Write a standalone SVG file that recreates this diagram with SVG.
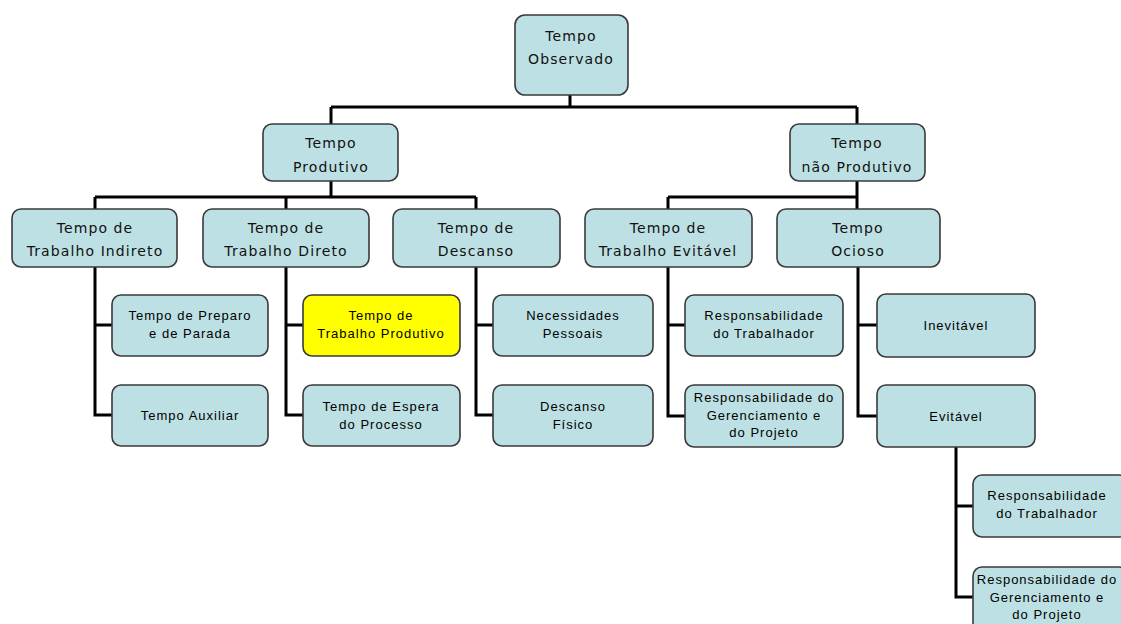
<svg xmlns="http://www.w3.org/2000/svg" width="1121" height="624" viewBox="0 0 1121 624">
  <style>
    .box { fill: #bce0e3; stroke: #3a3a3a; stroke-width: 1.6; }
    .hl { fill: #ffff00; }
    .big { font-family: "DejaVu Sans", Verdana, sans-serif; font-size: 14px; letter-spacing: 1.1px; fill: #111; text-anchor: middle; }
    .small { font-family: "Liberation Sans", Arial, sans-serif; font-size: 13px; letter-spacing: 1px; fill: #000; text-anchor: middle; }
    .wire { fill: none; stroke: #000; stroke-width: 3; }
  </style>

  <g id="connectors" class="wire">
    <path d="M570,95 V107 M331,107 H857 M331,107 V124 M857,107 V124"/>
    <path d="M331,181 V197 M95,197 H476 M95,197 V209 M286,197 V209 M476,197 V209"/>
    <path d="M857,181 V197 M668,197 H857 M668,197 V209 M857,197 V209"/>
    <path d="M95,267 V415 H112 M95,325 H112"/>
    <path d="M286,267 V415 H303 M286,325 H303"/>
    <path d="M476,267 V415 H493 M476,325 H493"/>
    <path d="M668,267 V416 H685 M668,325 H685"/>
    <path d="M858,267 V416 H877 M858,325 H877"/>
    <path d="M956,447 V597 H973 M956,506 H973"/>
  </g>

  <g id="tempo-observado">
    <rect class="box" x="515" y="15" width="113" height="80" rx="10"/>
    <text class="big" x="571" y="41">Tempo</text>
    <text class="big" x="571" y="64">Observado</text>
  </g>

  <g id="tempo-produtivo">
    <rect class="box" x="263" y="124" width="135" height="57" rx="9"/>
    <text class="big" x="331" y="148">Tempo</text>
    <text class="big" x="331" y="172">Produtivo</text>
  </g>

  <g id="tempo-nao-produtivo">
    <rect class="box" x="790" y="124" width="135" height="57" rx="9"/>
    <text class="big" x="857" y="148">Tempo</text>
    <text class="big" x="857" y="172">não Produtivo</text>
  </g>

  <g id="trabalho-indireto">
    <rect class="box" x="12" y="209" width="165" height="58" rx="9"/>
    <text class="big" x="95" y="233">Tempo de</text>
    <text class="big" x="95" y="256">Trabalho Indireto</text>
  </g>

  <g id="trabalho-direto">
    <rect class="box" x="203" y="209" width="166" height="58" rx="9"/>
    <text class="big" x="286" y="233">Tempo de</text>
    <text class="big" x="286" y="256">Trabalho Direto</text>
  </g>

  <g id="descanso">
    <rect class="box" x="393" y="209" width="167" height="58" rx="9"/>
    <text class="big" x="476" y="233">Tempo de</text>
    <text class="big" x="476" y="256">Descanso</text>
  </g>

  <g id="trabalho-evitavel">
    <rect class="box" x="585" y="209" width="167" height="58" rx="9"/>
    <text class="big" x="668" y="233">Tempo de</text>
    <text class="big" x="668" y="256">Trabalho Evitável</text>
  </g>

  <g id="ocioso">
    <rect class="box" x="777" y="209" width="163" height="58" rx="9"/>
    <text class="big" x="858" y="233">Tempo</text>
    <text class="big" x="858" y="256">Ocioso</text>
  </g>

  <g id="preparo-parada">
    <rect class="box" x="112" y="295" width="156" height="61" rx="9"/>
    <text class="small" x="190" y="320">Tempo de Preparo</text>
    <text class="small" x="190" y="338">e de Parada</text>
  </g>

  <g id="auxiliar">
    <rect class="box" x="112" y="385" width="156" height="61" rx="9"/>
    <text class="small" x="190" y="420">Tempo Auxiliar</text>
  </g>

  <g id="trabalho-produtivo">
    <rect class="box hl" x="303" y="295" width="157" height="61" rx="9"/>
    <text class="small" x="381" y="320">Tempo de</text>
    <text class="small" x="381" y="338">Trabalho Produtivo</text>
  </g>

  <g id="espera-processo">
    <rect class="box" x="303" y="385" width="157" height="61" rx="9"/>
    <text class="small" x="381" y="411">Tempo de Espera</text>
    <text class="small" x="381" y="429">do Processo</text>
  </g>

  <g id="necessidades-pessoais">
    <rect class="box" x="493" y="295" width="160" height="61" rx="9"/>
    <text class="small" x="573" y="320">Necessidades</text>
    <text class="small" x="573" y="338">Pessoais</text>
  </g>

  <g id="descanso-fisico">
    <rect class="box" x="493" y="385" width="160" height="61" rx="9"/>
    <text class="small" x="573" y="411">Descanso</text>
    <text class="small" x="573" y="429">Físico</text>
  </g>

  <g id="resp-trabalhador">
    <rect class="box" x="685" y="295" width="158" height="61" rx="9"/>
    <text class="small" x="764" y="320">Responsabilidade</text>
    <text class="small" x="764" y="338">do Trabalhador</text>
  </g>

  <g id="resp-gerenciamento">
    <rect class="box" x="685" y="385" width="158" height="62" rx="9"/>
    <text class="small" x="764" y="402">Responsabilidade do</text>
    <text class="small" x="764" y="420">Gerenciamento e</text>
    <text class="small" x="764" y="437">do Projeto</text>
  </g>

  <g id="inevitavel">
    <rect class="box" x="877" y="294" width="158" height="63" rx="9"/>
    <text class="small" x="956" y="330">Inevitável</text>
  </g>

  <g id="evitavel">
    <rect class="box" x="877" y="385" width="158" height="62" rx="9"/>
    <text class="small" x="956" y="421">Evitável</text>
  </g>

  <g id="resp-trabalhador-ocioso">
    <rect class="box" x="973" y="475" width="155" height="62" rx="9"/>
    <text class="small" x="1047" y="500">Responsabilidade</text>
    <text class="small" x="1047" y="518">do Trabalhador</text>
  </g>

  <g id="resp-gerenciamento-ocioso">
    <rect class="box" x="973" y="567" width="155" height="70" rx="9"/>
    <text class="small" x="1047" y="584">Responsabilidade do</text>
    <text class="small" x="1047" y="602">Gerenciamento e</text>
    <text class="small" x="1047" y="619">do Projeto</text>
  </g>
</svg>
